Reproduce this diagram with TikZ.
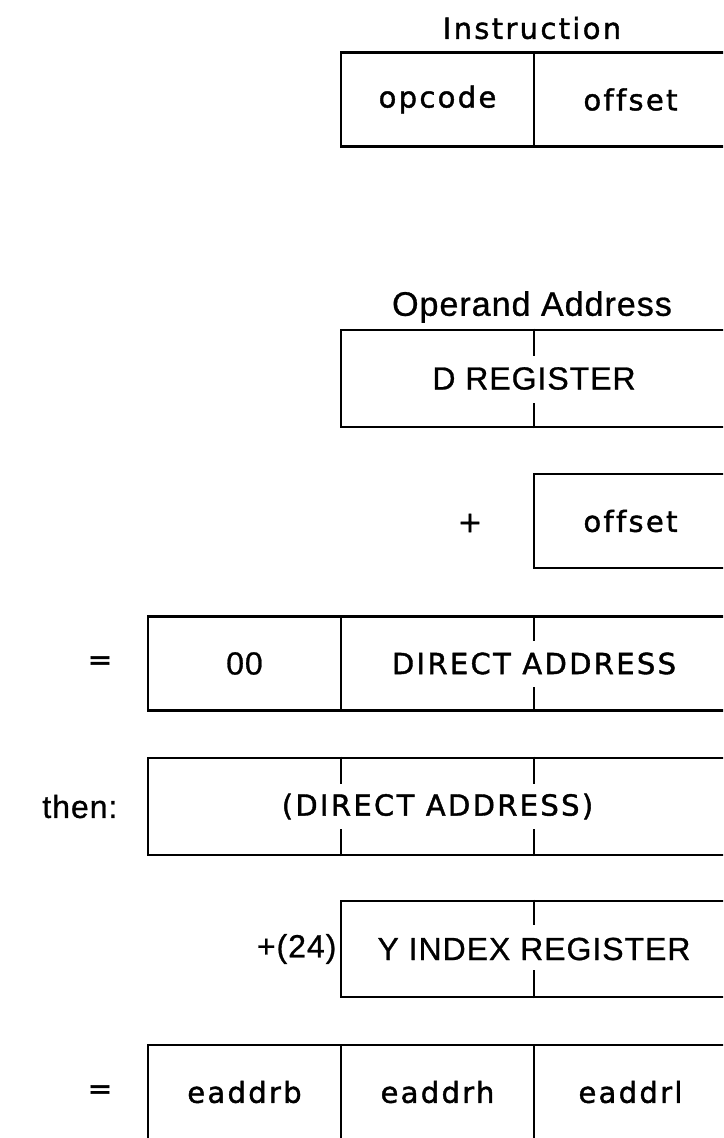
\documentclass[tikz,border=0pt]{standalone}
\usepackage{fontspec}
% pen-plotter lettering and the typeset labels
\setmainfont{DejaVu Sans}[LetterSpace=8, FakeBold=1.4, Ligatures=NoCommon]
\newfontfamily\helv{Liberation Sans}[LetterSpace=3, FakeBold=0.8]
\begin{document}
\begin{tikzpicture}[x=1pt,y=-1pt,
  txt/.style={font=\fontsize{29}{34}\selectfont},
  htxt/.style={font=\helv\fontsize{32}{38}\selectfont},
  cell/.style={draw, line width=2.8pt, inner sep=0pt, txt, minimum width=193pt, minimum height=94pt},
  lbl/.style={inner sep=0pt, txt},
  tick/.style={line width=2.6pt}]
\useasboundingbox (0,0) rectangle (723,1138);
\clip (0,0) rectangle (723,1138);
% byte column boundaries
\coordinate (c1) at (341,0);
\coordinate (c2) at (534,0);

% instruction word
\node[lbl] (ititle) at (532,28) {Instruction};
\node[cell] (opc) at (437.5,99.5) {opcode};
\node[cell] (ioff) at (630.5,99.5) {offset};

% operand address: D register
\node[lbl, htxt, font=\helv\fontsize{34}{40}\selectfont] (otitle) at (532,307) {Operand Address};
\node[cell, htxt, minimum width=386pt, minimum height=97pt] (dreg) at (534,378.5) {D REGISTER};
\draw[tick] (dreg.north -| c2) -- ++(0,27);
\draw[tick] (dreg.south -| c2) -- ++(0,-25);

% plus offset
\node[lbl] (plus) at (470,523) {+};
\node[cell] (off2) at (630.5,521) {offset};

% direct address
\node[lbl] (eq1) at (100,663) {=};
\node[cell, htxt] (zero) at (244.5,663.5) {00};
\node[cell, minimum width=386pt] (da) at (534,663.5) {DIRECT ADDRESS};
\draw[tick] (da.north -| c2) -- ++(0,26);
\draw[tick] (da.south -| c2) -- ++(0,-25);

% indirect through direct address
\node[cell, minimum width=579pt, minimum height=97pt] (ida) at (437.5,806.5) {(DIRECT ADDRESS)};
\node[lbl, htxt, anchor=east] (then) at ([xshift=-29pt]ida.west) {then:};
\draw[tick] (ida.north -| c1) -- ++(0,27);
\draw[tick] (ida.north -| c2) -- ++(0,27);
\draw[tick] (ida.south -| c1) -- ++(0,-27);
\draw[tick] (ida.south -| c2) -- ++(0,-27);

% plus Y index register
\node[cell, htxt, minimum width=386pt, minimum height=96pt] (yreg) at (534,949) {Y INDEX REGISTER};
\node[lbl, htxt, anchor=east] (p24) at ([xshift=-3pt]yreg.west) {+(24)};
\draw[tick] (yreg.north -| c2) -- ++(0,25);
\draw[tick] (yreg.south -| c2) -- ++(0,-28);

% effective address
\node[lbl] (eq2) at (100,1092) {=};
\node[cell] (eb) at (244.5,1092) {eaddrb};
\node[cell] (eh) at (437.5,1092) {eaddrh};
\node[cell] (el) at (630.5,1092) {eaddrl};
\end{tikzpicture}
\end{document}
